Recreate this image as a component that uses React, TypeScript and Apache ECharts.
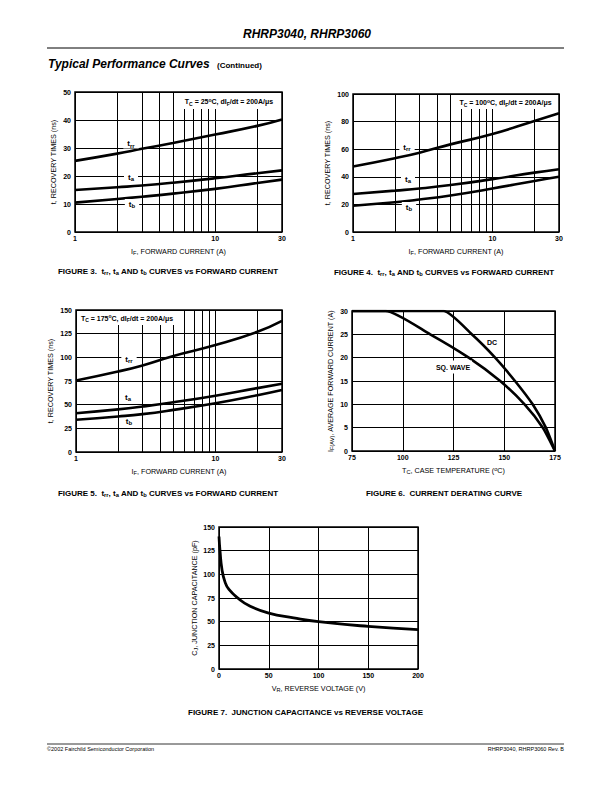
import React, { useEffect, useRef } from 'react';
import * as echarts from 'echarts';

const FONT = '"Liberation Sans", Arial, Helvetica, sans-serif';

// ---------- Figures 3-5: recovery times vs forward current (log x) ----------
const IF_A = [1, 2, 3, 5, 10, 20, 30];
const LOG_MINOR_LINES = [2, 3, 4, 5, 6, 7, 8, 9, 20];

const TRR_25 = [25.4, 28, 29.7, 31.8, 34.8, 37.9, 40.2];
const TA_25 = [15, 16, 16.6, 17.6, 19.2, 21, 22];
const TB_25 = [10.5, 11.8, 12.6, 13.7, 15.4, 17.5, 18.7];

const TRR_100 = [47.5, 53.5, 57.5, 63.5, 71, 80.5, 86];
const TA_100 = [27.5, 30, 31.5, 34, 38.3, 43, 45.5];
const TB_100 = [19, 21.5, 23.5, 26.5, 31.5, 37, 40];

const TRR_175 = [75.5, 85, 91.5, 101.5, 113, 127, 138.5];
const TA_175 = [41, 45, 48, 52.5, 59.5, 67.5, 72];
const TB_175 = [34, 37.5, 40, 44.5, 51.5, 60, 65.5];

// ---------- Figure 6: current derating ----------
const DC_TC = [75, 120, 134, 145.5, 155.3, 164, 170.5, 175];
const DC_IF = [30, 30, 25, 20, 15, 10, 5, 0];
const SQ_TC = [75, 91.5, 113.5, 132.5, 148, 160, 169, 175];
const SQ_IF = [30, 30, 25, 20, 15, 10, 5, 0];

// ---------- Figure 7: junction capacitance ----------
const VR_V = [0, 1, 3, 6, 10, 20, 30, 50, 75, 100, 150, 200];
const CJ_PF = [140, 125, 105, 92, 84, 74, 67, 59, 54, 50, 45, 41.5];

const pairs = (xs: number[], ys: number[]) => xs.map((x, i) => [x, ys[i]]);

const rich = (size: number, weight: string, subScale = 0.72) => ({
  n: { fontSize: size, fontWeight: weight, fontFamily: FONT, color: '#000', fill: '#000', lineHeight: size + 2 },
  s: { fontSize: size * subScale, fontWeight: weight, fontFamily: FONT, color: '#000', fill: '#000', verticalAlign: 'bottom' },
  p: { fontSize: size * subScale, fontWeight: weight, fontFamily: FONT, color: '#000', fill: '#000', verticalAlign: 'top' },
});

const GRIDS = [
  { left: 75, top: 92, width: 207, height: 140 },
  { left: 353, top: 94, width: 206, height: 138 },
  { left: 76, top: 310, width: 206, height: 142 },
  { left: 352, top: 311, width: 203, height: 140 },
  { left: 219, top: 527, width: 199, height: 142 },
];

const axisLabel = { color: '#000', fontSize: 7, fontWeight: 'bold', fontFamily: FONT };
const splitLine = { show: true, lineStyle: { color: '#000', width: 1 } };
const nameStyle = { fontSize: 7.2, fontFamily: FONT, color: '#000', rich: rich(7.2, 'normal', 0.78) };

function logX(gi: number) {
  return {
    type: 'log', logBase: 10, gridIndex: gi, min: 1, max: 30,
    axisLine: { show: false }, axisTick: { show: false }, splitLine,
    axisLabel: { ...axisLabel, margin: 3, formatter: (v: number) => String(Math.round(v)) },
    name: '{n|I}{s|F}{n|, FORWARD CURRENT (A)}', nameLocation: 'middle', nameGap: 15,
    nameTextStyle: nameStyle,
  };
}
function valAxis(gi: number, min: number, max: number, interval: number, name: string, nameGap: number, isY: boolean) {
  return {
    type: 'value', gridIndex: gi, min, max, interval,
    axisLine: { show: false }, axisTick: { show: false }, splitLine,
    axisLabel: { ...axisLabel, margin: isY ? 4 : 3 },
    name, nameLocation: 'middle', nameGap, nameTextStyle: nameStyle,
  };
}

const curve = (gi: number, data: number[][], extra: any = {}) => ({
  type: 'line', xAxisIndex: gi, yAxisIndex: gi, data, symbol: 'none', smooth: 0.5,
  lineStyle: { color: '#000', width: 2.6 }, silent: true, ...extra,
});
const minorLines = {
  markLine: {
    silent: true, symbol: ['none', 'none'], label: { show: false },
    lineStyle: { color: '#000', width: 1, type: 'solid' },
    data: LOG_MINOR_LINES.map((v) => ({ xAxis: v })),
  },
};

const txt = (x: number, y: number, text: string, size: number, weight: string, align = 'center', extra: any = {}, subScale = 0.72) => ({
  type: 'text', x, y, z: 100,
  style: {
    text, rich: rich(size, weight, subScale), fontSize: size, fontWeight: weight, fontFamily: FONT, fill: '#000',
    align, verticalAlign: 'middle', ...extra,
  },
});
const whiteRect = (x: number, y: number, w: number, h: number) => ({
  type: 'rect', z: 90, shape: { x, y, width: w, height: h }, style: { fill: '#fff' },
});
const lbl = (x: number, y: number, text: string, bg = true) =>
  txt(x, y, text, 8, 'bold', 'center', bg ? { backgroundColor: '#fff', padding: [0, 4, 0, 4] } : {}, 0.75);
const annot = (t: string) => `{n|T}{s|C}{n| = ${t}}{p|o}{n|C, dI}{s|F}{n|/dt = 200A/μs}`;
const caption = (n: number) => `{n|FIGURE ${n}.  t}{s|rr}{n|, t}{s|a}{n| AND t}{s|b}{n| CURVES vs FORWARD CURRENT}`;

const option: any = {
  animation: false,
  backgroundColor: '#fff',
  grid: GRIDS.map((g) => ({ ...g, show: true, borderColor: '#000', borderWidth: 1.5, backgroundColor: '#fff', containLabel: false })),
  xAxis: [
    logX(0), logX(1), logX(2),
    valAxis(3, 75, 175, 25, '{n|T}{s|C}{n|, CASE TEMPERATURE (}{p|o}{n|C)}', 15, false),
    valAxis(4, 0, 200, 50, '{n|V}{s|R}{n|, REVERSE VOLTAGE (V)}', 15, false),
  ],
  yAxis: [
    valAxis(0, 0, 50, 10, '{n|t, RECOVERY TIMES (ns)}', 17, true),
    valAxis(1, 0, 100, 20, '{n|t, RECOVERY TIMES (ns)}', 21, true),
    valAxis(2, 0, 150, 25, '{n|t, RECOVERY TIMES (ns)}', 21, true),
    valAxis(3, 0, 30, 5, '{n|I}{s|F(AV)}{n|, AVERAGE FORWARD CURRENT (A)}', 17, true),
    valAxis(4, 0, 150, 25, '{n|C}{s|J}{n|, JUNCTION CAPACITANCE (pF)}', 20, true),
  ],
  series: [
    curve(0, pairs(IF_A, TRR_25), minorLines),
    curve(0, pairs(IF_A, TA_25)),
    curve(0, pairs(IF_A, TB_25)),
    curve(1, pairs(IF_A, TRR_100), minorLines),
    curve(1, pairs(IF_A, TA_100)),
    curve(1, pairs(IF_A, TB_100)),
    curve(2, pairs(IF_A, TRR_175), minorLines),
    curve(2, pairs(IF_A, TA_175)),
    curve(2, pairs(IF_A, TB_175)),
    curve(3, pairs(DC_TC, DC_IF), { smooth: 0.2 }),
    curve(3, pairs(SQ_TC, SQ_IF), { smooth: 0.2 }),
    curve(4, pairs(VR_V, CJ_PF), { smooth: 0.5, lineStyle: { color: '#000', width: 2.8 } }),
  ],
  graphic: [
    // header
    { type: 'text', x: 307, y: 34, z: 100, style: { text: 'RHRP3040, RHRP3060', fontSize: 12, fontWeight: 'bold', fontStyle: 'italic', fontFamily: FONT, fill: '#000', align: 'center', verticalAlign: 'middle' } },
    { type: 'line', z: 100, shape: { x1: 47, y1: 48, x2: 564, y2: 48 }, style: { stroke: '#000', lineWidth: 1 } },
    { type: 'text', x: 48, y: 64, z: 100, style: { text: 'Typical Performance Curves', fontSize: 12, fontWeight: 'bold', fontStyle: 'italic', fontFamily: FONT, fill: '#000', align: 'left', verticalAlign: 'middle' } },
    { type: 'text', x: 217, y: 65, z: 100, style: { text: '(Continued)', fontSize: 8, fontWeight: 'bold', fontFamily: FONT, fill: '#000', align: 'left', verticalAlign: 'middle' } },
    // footer
    { type: 'line', z: 100, shape: { x1: 47, y1: 744, x2: 564, y2: 744 }, style: { stroke: '#000', lineWidth: 0.8 } },
    { type: 'text', x: 47, y: 748.5, z: 100, style: { text: '©2002 Fairchild Semiconductor Corporation', fontSize: 5.5, fontFamily: FONT, fill: '#000', align: 'left', verticalAlign: 'middle' } },
    { type: 'text', x: 564, y: 748.5, z: 100, style: { text: 'RHRP3040, RHRP3060 Rev. B', fontSize: 5.5, fontFamily: FONT, fill: '#000', align: 'right', verticalAlign: 'middle' } },

    // Figure 3 annotations
    whiteRect(183, 93, 98, 16),
    txt(229, 101.5, annot('25'), 7, 'bold'),
    lbl(131, 143.5, '{n|t}{s|rr}'),
    lbl(131, 177, '{n|t}{s|a}'),
    lbl(132, 204, '{n|t}{s|b}'),
    txt(168, 271, caption(3), 8, 'bold'),

    // Figure 4 annotations
    whiteRect(453, 95, 105, 14),
    txt(505.5, 102.5, annot('100'), 7, 'bold'),
    lbl(407, 147, '{n|t}{s|rr}'),
    lbl(408, 179, '{n|t}{s|a}'),
    lbl(409, 207, '{n|t}{s|b}'),
    txt(444, 272, caption(4), 8, 'bold'),

    // Figure 5 annotations
    whiteRect(77, 311, 102, 14),
    txt(127, 318, annot('175'), 7, 'bold'),
    lbl(129, 359, '{n|t}{s|rr}'),
    lbl(128, 397, '{n|t}{s|a}', false),
    lbl(129, 421, '{n|t}{s|b}', false),
    txt(168, 493, caption(5), 8, 'bold'),

    // Figure 6 annotations
    txt(492, 342, '{n|DC}', 7, 'bold'),
    txt(453, 367, '{n|SQ. WAVE}', 7, 'bold', 'center', { backgroundColor: '#fff', padding: [2, 2, 2, 2] }),
    txt(444, 493, '{n|FIGURE 6.  CURRENT DERATING CURVE}', 8, 'bold'),

    // Figure 7
    txt(305.5, 712, '{n|FIGURE 7.  JUNCTION CAPACITANCE vs REVERSE VOLTAGE}', 8, 'bold'),
  ],
};

export default function App() {
  const ref = useRef<HTMLDivElement>(null);
  useEffect(() => {
    if (!ref.current) return;
    const chart = echarts.init(ref.current, null, { renderer: 'svg', width: 612, height: 792 });
    chart.setOption(option);
    return () => chart.dispose();
  }, []);
  return (
    <div
      ref={ref}
      style={{ position: 'absolute', left: 0, top: 0, width: 612, height: 792, background: '#fff' }}
    />
  );
}
